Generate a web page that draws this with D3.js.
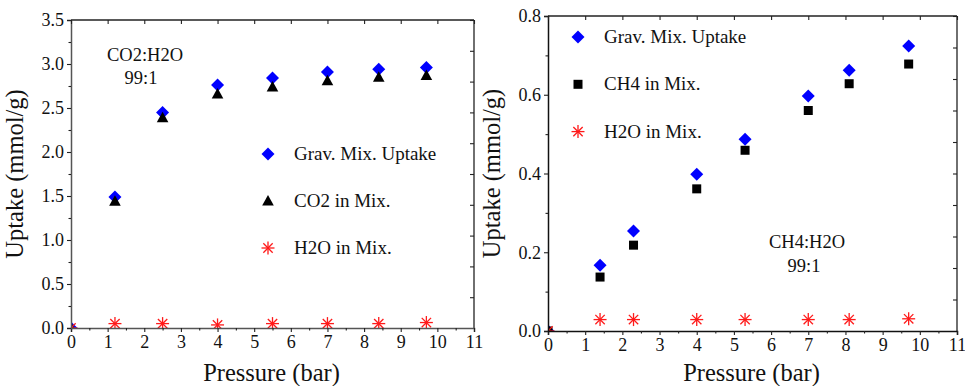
<!DOCTYPE html>
<html><head><meta charset="utf-8">
<script src="https://cdn.jsdelivr.net/npm/d3@7"></script>
<style>body{margin:0;background:#fff;}</style>
</head><body>
<svg id="chart" width="965" height="386"></svg>
<script>
// ---- data ----
const xTicks = [0,1,2,3,4,5,6,7,8,9,10,11];
const pressureCO2 = [0, 1.2, 2.5, 4, 5.5, 7, 8.4, 9.7];
const gravCO2 = [0, 1.49, 2.45, 2.76, 2.84, 2.91, 2.94, 2.96];
const co2InMix = [0, 1.44, 2.39, 2.66, 2.74, 2.81, 2.85, 2.87];
const h2oInCO2Mix = [0, 0.05, 0.05, 0.035, 0.05, 0.05, 0.05, 0.062];
const yTicksLeft = [0, 0.5, 1.0, 1.5, 2.0, 2.5, 3.0, 3.5];

const pressureCH4 = [0, 1.4, 2.3, 4, 5.3, 7, 8.1, 9.7];
const gravCH4 = [0, 0.167, 0.254, 0.398, 0.487, 0.597, 0.662, 0.724];
const ch4InMix = [0, 0.137, 0.218, 0.361, 0.459, 0.560, 0.628, 0.678];
const h2oInCH4Mix = [0, 0.029, 0.029, 0.029, 0.029, 0.029, 0.029, 0.031];
const yTicksRight = [0, 0.2, 0.4, 0.6, 0.8];

const FONT = '"Liberation Serif", "Times New Roman", Tinos, "DejaVu Serif", serif';
const svg = d3.select("#chart");

function marker(g, type, x, y) {
  if (type === "diamond") {
    g.append("path").attr("d", "M0,-6.5L6.5,0L0,6.5L-6.5,0Z").attr("transform", `translate(${x},${y})`).attr("fill", "#0000ff");
  } else if (type === "triangle") {
    g.append("path").attr("d", "M0,-6L5.8,4.5L-5.8,4.5Z").attr("transform", `translate(${x},${y})`).attr("fill", "#000");
  } else if (type === "square") {
    g.append("rect").attr("x", x-4.5).attr("y", y-4.5).attr("width", 9).attr("height", 9).attr("fill", "#000");
  } else if (type === "star") {
    const r = 6.5, d = r*0.72, s = g.append("g").attr("transform", `translate(${x},${y})`).attr("stroke", "#ff1a1a").attr("stroke-width", 1.3);
    [[-r,0,r,0],[0,-r,0,r],[-d,-d,d,d],[-d,d,d,-d]].forEach(l=>
      s.append("line").attr("x1",l[0]).attr("y1",l[1]).attr("x2",l[2]).attr("y2",l[3]));
  }
}

function txt(g, x, y, t, size, anchor) {
  return g.append("text").attr("x", x).attr("y", y).attr("text-anchor", anchor || "start")
    .style("font-family", FONT).style("font-size", size + "px").attr("fill", "#111").text(t);
}

function panel(cfg) {
  const x = d3.scaleLinear().domain([0, 11]).range([cfg.x0, cfg.x1]);
  const y = d3.scaleLinear().domain([0, cfg.ymax]).range([cfg.y1, cfg.y0]);
  const g = svg.append("g");
  const id = "clip" + cfg.id;
  svg.append("clipPath").attr("id", id).append("rect").attr("x", cfg.x0).attr("y", cfg.y0).attr("width", cfg.x1-cfg.x0).attr("height", cfg.y1-cfg.y0);

  // frame
  g.append("line").attr("x1", cfg.x0).attr("x2", cfg.x1).attr("y1", cfg.y0).attr("y2", cfg.y0).attr("stroke", "#222").attr("stroke-width", 1.3);
  g.append("line").attr("x1", cfg.x1).attr("x2", cfg.x1).attr("y1", cfg.y0).attr("y2", cfg.y1).attr("stroke", "#222").attr("stroke-width", 1.3);

  // data
  const dg = g.append("g").attr("clip-path", `url(#${id})`);
  cfg.series.forEach(s => s.xs.forEach((p, i) => marker(dg, s.type, x(p), y(s.ys[i]))));

  // bottom axis
  g.append("g").attr("transform", `translate(0,${cfg.y1})`).call(d3.axisBottom(x).tickValues(xTicks).tickFormat(d3.format("d")).tickSize(4).tickPadding(3));
  g.append("g").attr("transform", `translate(0,${cfg.y1})`).call(d3.axisBottom(x).tickValues(d3.range(0.5, 11, 1)).tickFormat("").tickSize(2.5)).select(".domain").remove();
  // left axis
  g.append("g").attr("transform", `translate(${cfg.x0},0)`).call(d3.axisLeft(y).tickValues(cfg.yTicks).tickFormat(d3.format(".1f")).tickSize(4).tickPadding(3));
  g.append("g").attr("transform", `translate(${cfg.x0},0)`).call(d3.axisLeft(y).tickValues(cfg.yMinor).tickFormat("").tickSize(2.5)).select(".domain").remove();
  // top axis ticks (inward)
  g.append("g").attr("transform", `translate(0,${cfg.y0})`).call(d3.axisBottom(x).tickValues(xTicks).tickFormat("").tickSize(4)).select(".domain").remove();
  // right axis ticks (inward), 10 intervals
  const yr = d3.scaleLinear().domain([0, 10]).range([cfg.y1, cfg.y0]);
  g.append("g").attr("transform", `translate(${cfg.x1},0)`).call(d3.axisLeft(yr).tickValues(d3.range(1, 11)).tickFormat("").tickSize(4)).select(".domain").remove();

  g.selectAll(".domain").attr("stroke", cfg.axisColor).attr("stroke-width", 1.5);
  g.selectAll(".tick line").attr("stroke", "#222").attr("stroke-width", 1.1);
  g.selectAll(".tick text").style("font-family", FONT).style("font-size", "18px").attr("fill", "#111");

  // titles
  txt(g, (cfg.x0+cfg.x1)/2 - 1, 381, "Pressure (bar)", 24.5, "middle");
  txt(g, 0, 0, "Uptake (mmol/g)", 24.5, "middle").attr("x", null).attr("y", null)
    .attr("transform", `translate(${cfg.x0-48},${(cfg.y0+cfg.y1)/2}) rotate(-90)`);

  // annotation
  cfg.note.forEach(n => txt(g, n.x, n.y, n.t, 18.5, "middle"));

  // legend
  cfg.series.forEach((s, i) => {
    const ly = cfg.legY + i*cfg.legDy;
    marker(g, s.type, cfg.legX, ly);
    txt(g, cfg.legX + 26, ly + 6, s.name, 19);
  });
}

panel({
  id: "L", x0: 71, x1: 474, y0: 20, y1: 328, ymax: 3.5, yTicks: yTicksLeft,
  yMinor: d3.range(0.25, 3.5, 0.5), axisColor: "#555",
  series: [
    {name: "Grav. Mix. Uptake", type: "diamond", xs: pressureCO2, ys: gravCO2},
    {name: "CO2 in Mix.", type: "triangle", xs: pressureCO2, ys: co2InMix},
    {name: "H2O in Mix.", type: "star", xs: pressureCO2, ys: h2oInCO2Mix}
  ],
  note: [{x: 145, y: 61, t: "CO2:H2O"}, {x: 141, y: 84, t: "99:1"}],
  legX: 268, legY: 154, legDy: 47
});

panel({
  id: "R", x0: 548, x1: 957, y0: 16, y1: 331, ymax: 0.8, yTicks: yTicksRight,
  yMinor: d3.range(0.1, 0.8, 0.2), axisColor: "#111",
  series: [
    {name: "Grav. Mix. Uptake", type: "diamond", xs: pressureCH4, ys: gravCH4},
    {name: "CH4 in Mix.", type: "square", xs: pressureCH4, ys: ch4InMix},
    {name: "H2O in Mix.", type: "star", xs: pressureCH4, ys: h2oInCH4Mix}
  ],
  note: [{x: 807, y: 248, t: "CH4:H2O"}, {x: 804, y: 272, t: "99:1"}],
  legX: 578, legY: 37, legDy: 47.3
});
</script>
</body></html>
